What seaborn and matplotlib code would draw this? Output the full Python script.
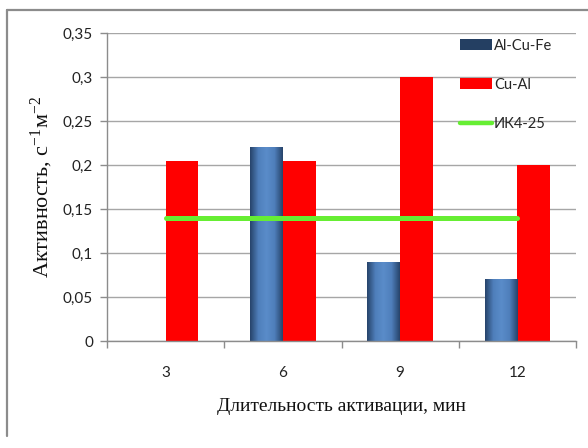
import matplotlib
matplotlib.use("Agg")
import numpy as np
import pandas as pd
import matplotlib.pyplot as plt
import seaborn as sns
from matplotlib.lines import Line2D
from matplotlib.patches import Patch
from matplotlib.colors import LinearSegmentedColormap
from matplotlib.ticker import FuncFormatter, MultipleLocator, FixedLocator

# data
durations = ["3", "6", "9", "12"]
al_cu_fe = [0.0, 0.22, 0.09, 0.07]
cu_al = [0.205, 0.205, 0.30, 0.20]
ik4_25 = [0.14, 0.14, 0.14, 0.14]
series_names = ["Al-Cu-Fe", "Cu-Al"]

df = pd.DataFrame({
    "duration": durations * 2,
    "value": al_cu_fe + cu_al,
    "series": [series_names[0]] * 4 + [series_names[1]] * 4,
})

sns.set_style("white")
plt.rcParams["font.family"] = ["Lato", "DejaVu Sans"]
plt.rcParams["mathtext.fontset"] = "custom"
plt.rcParams["mathtext.rm"] = "Liberation Serif"
plt.rcParams["mathtext.it"] = "Liberation Serif:italic"

fig = plt.figure(figsize=(5.88, 4.48), dpi=100)
ax = fig.add_axes([107 / 588, 1 - 341 / 448, 469 / 588, 308 / 448])

sns.barplot(data=df, x="duration", y="value", hue="series", order=durations,
            hue_order=series_names, palette=["#4a78b0", "#ff0000"],
            width=0.56, gap=0, linewidth=0, saturation=1, legend=False, ax=ax, zorder=2)

# gradient fill on the blue bars (dark edges, light middle)
grad_cmap = LinearSegmentedColormap.from_list("bl", ["#27446b", "#4f7fbb", "#5a8cc9", "#4f7fbb", "#27446b"])
grad = np.linspace(0, 1, 64).reshape(1, -1)
for bar in ax.containers[0]:
    h = bar.get_height()
    if h <= 0:
        continue
    x0 = bar.get_x()
    w = bar.get_width()
    im = ax.imshow(grad, cmap=grad_cmap, aspect="auto", extent=[x0, x0 + w, 0, h],
                   zorder=2.1, interpolation="bilinear")
    im.set_clip_path(bar)

sns.lineplot(x=np.arange(len(durations)), y=ik4_25, color="#66ee33", linewidth=3.6,
             solid_capstyle="round", ax=ax, zorder=3)

ax.set_xlim(-0.5, len(durations) - 0.5)
ax.set_ylim(0, 0.35)
ax.yaxis.set_major_locator(MultipleLocator(0.05))
ax.yaxis.set_major_formatter(FuncFormatter(lambda v, p: f"{v:g}".replace(".", ",")))
ax.grid(axis="y", color="#a6a6a6", linewidth=1.0, zorder=0)
ax.set_axisbelow(True)

# tick marks at category boundaries, labels at centres
ax.xaxis.set_minor_locator(FixedLocator(np.arange(len(durations) + 1) - 0.5))
ax.tick_params(axis="x", which="major", length=0, pad=18, labelsize=11, colors="#222222")
ax.tick_params(axis="x", which="minor", length=5, width=1, color="#8c8c8c", direction="out", bottom=True)
ax.tick_params(axis="y", length=5, width=1, color="#8c8c8c", direction="out", pad=5,
               labelsize=11, labelcolor="#222222", left=True)

for s in ["top", "right"]:
    ax.spines[s].set_visible(False)
for s in ["left", "bottom"]:
    ax.spines[s].set_color("#8c8c8c")
    ax.spines[s].set_linewidth(1.0)

ax.set_xlabel("Длительность активации, мин", family="Liberation Serif", fontsize=14,
              labelpad=13, color="#111111")
ax.set_ylabel("Активность, с$^{-1}$м$^{-2}$", family="Liberation Serif", fontsize=16,
              labelpad=6, color="#111111")

handles = [Patch(facecolor="#243f62", edgecolor="none"),
           Patch(facecolor="#ff0000", edgecolor="none"),
           Line2D([0], [0], color="#66ee33", linewidth=3.2)]
leg = fig.legend(handles, ["Al-Cu-Fe", "Cu-Al", "ИК4-25"], loc="upper left",
                 bbox_to_anchor=(454 / 588, 1 - 33 / 448), frameon=False,
                 fontsize=10.5, handlelength=2.2, handleheight=0.8, handletextpad=0.15,
                 labelspacing=1.72, borderaxespad=0)

# outer frame (top and left edges visible)
fig.add_artist(Line2D([7 / 588, 7 / 588], [1 - 436 / 448, 1 - 10 / 448], color="#8c8c8c", lw=1.6))
fig.add_artist(Line2D([7 / 588, 1], [1 - 10 / 448, 1 - 10 / 448], color="#8c8c8c", lw=1.6))

fig.savefig("out.png", dpi=100)
